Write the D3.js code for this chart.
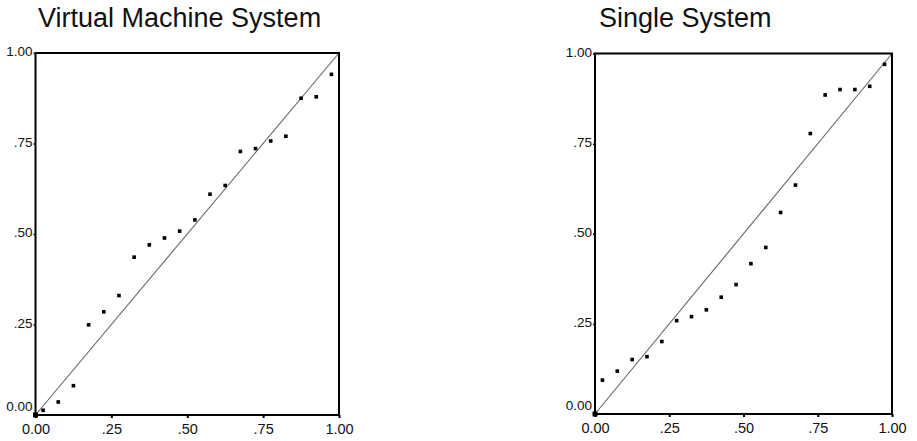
<!DOCTYPE html>
<html>
<head>
<meta charset="utf-8">
<script src="https://cdn.jsdelivr.net/npm/d3@7"></script>
<style>
  html, body { margin: 0; padding: 0; background: #fff; }
  svg { display: block; }
  text { font-family: "Liberation Sans", Arial, sans-serif; fill: #111; }
</style>
</head>
<body>
<svg id="chart" width="917" height="441"></svg>
<script>
// ---- Data ----
const titles = ["Virtual Machine System", "Single System"];
const tickValues = [0, 0.25, 0.5, 0.75, 1];
const tickLabels = ["0.00", ".25", ".50", ".75", "1.00"];

// Expected cumulative probability (x) for both panels
const expectedX = [0, 0.025, 0.075, 0.125, 0.175, 0.225, 0.275, 0.325, 0.375, 0.425, 0.475,
                   0.525, 0.575, 0.625, 0.675, 0.725, 0.775, 0.825, 0.875, 0.925, 0.975];
// Observed cumulative probability (y), Virtual Machine System
const vmObserved = [0, 0.013, 0.036, 0.081, 0.249, 0.285, 0.330, 0.436, 0.470, 0.489, 0.508,
                    0.539, 0.610, 0.634, 0.728, 0.736, 0.757, 0.770, 0.875, 0.879, 0.941];
// Observed cumulative probability (y), Single System
const singleObserved = [0, 0.094, 0.119, 0.151, 0.159, 0.201, 0.259, 0.270, 0.289, 0.324, 0.359,
                        0.417, 0.462, 0.559, 0.635, 0.778, 0.885, 0.900, 0.900, 0.909, 0.970];

const panels = [
  { title: titles[0], ys: vmObserved, x0: 35.5, x1: 339, y0: 415, y1: 53, titleX: 38 },
  { title: titles[1], ys: singleObserved, x0: 595, x1: 892, y0: 414, y1: 53.5, titleX: 599 }
];

const svg = d3.select("#chart");

panels.forEach(p => {
  const x = d3.scaleLinear().domain([0, 1]).range([p.x0, p.x1]);
  const y = d3.scaleLinear().domain([0, 1]).range([p.y0, p.y1]);
  const g = svg.append("g");

  // Title
  g.append("text")
    .attr("x", p.titleX).attr("y", 27)
    .attr("font-size", 27)
    .text(p.title);

  // Diagonal reference line
  g.append("line")
    .attr("x1", x(0)).attr("y1", y(0))
    .attr("x2", x(1)).attr("y2", y(1))
    .attr("stroke", "#666").attr("stroke-width", 1.1);

  // Frame
  g.append("rect")
    .attr("x", x(0)).attr("y", y(1))
    .attr("width", x(1) - x(0)).attr("height", y(0) - y(1))
    .attr("fill", "none").attr("stroke", "#000").attr("stroke-width", 2);

  // X axis (bottom)
  const xAxis = d3.axisBottom(x).tickValues(tickValues)
    .tickFormat((d, i) => tickLabels[i]).tickSize(3).tickPadding(6);
  const gx = g.append("g").attr("transform", `translate(0,${y(0)})`).call(xAxis);
  gx.select(".domain").remove();
  gx.selectAll(".tick line").attr("stroke", "#000").attr("stroke-width", 2);
  gx.selectAll(".tick text").attr("font-size", 14.5)
    .attr("font-family", "'Liberation Sans', Arial, sans-serif").attr("fill", "#111");

  // Y axis (left)
  const yAxis = d3.axisLeft(y).tickValues(tickValues)
    .tickFormat((d, i) => tickLabels[i]).tickSize(2).tickPadding(1);
  const gy = g.append("g").attr("transform", `translate(${x(0)},0)`).call(yAxis);
  gy.select(".domain").remove();
  gy.selectAll(".tick line").attr("stroke", "#000").attr("stroke-width", 1.5);
  gy.selectAll(".tick text").attr("font-size", 13.5)
    .attr("font-family", "'Liberation Sans', Arial, sans-serif").attr("fill", "#111")
    .attr("dy", d => d === 0 ? "-0.35em" : "0.2em");

  // Points
  const pts = expectedX.map((v, i) => ({ x: v, y: p.ys[i] }));
  g.selectAll("rect.pt").data(pts).enter().append("rect")
    .attr("class", "pt")
    .attr("x", d => x(d.x) - (d.x === 0 ? 2.5 : 1.8))
    .attr("y", d => y(d.y) - (d.x === 0 ? 2.5 : 1.8))
    .attr("width", d => d.x === 0 ? 5 : 3.6)
    .attr("height", d => d.x === 0 ? 5 : 3.6)
    .attr("fill", "#000");
});
</script>
</body>
</html>
